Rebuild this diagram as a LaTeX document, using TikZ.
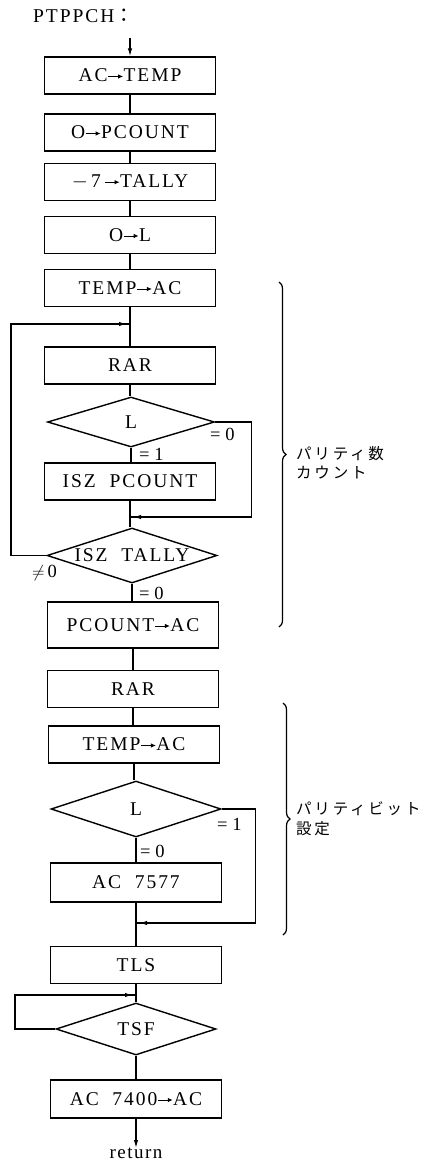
\documentclass[tikz,border=0pt]{standalone}
\usepackage{fontspec}
\setmainfont{Liberation Serif}
\newfontfamily\cjk{Noto Sans CJK JP}
\usetikzlibrary{shapes.geometric,arrows.meta,decorations.markings,decorations.pathreplacing}
\newcommand\boxfont{\fontsize{19.5}{22}\selectfont\addfontfeature{LetterSpace=10}}
\newcommand\lblfont{\fontsize{18.5}{21}\selectfont}
\newcommand\retfont{\fontsize{19}{21}\selectfont\addfontfeature{LetterSpace=8}}
\newcommand\jpfont{\cjk\fontsize{15.5}{19.5}\selectfont\addfontfeature{LetterSpace=18}}
\newcommand\rarr{\tikz[baseline=-0.6ex]\draw[line width=0.9pt,-{Latex[length=5pt,width=4.5pt]}](0pt,0pt)--(15pt,0pt);}
\begin{document}
\begin{tikzpicture}[x=1pt,y=-1pt,
  box/.style={draw,line width=1.4pt,minimum width=171pt,minimum height=37pt,inner sep=0pt,font=\boxfont},
  dia/.style={draw,diamond,aspect=3.3,line width=1.4pt,inner sep=0pt,font=\boxfont},
  conn/.style={line width=1.2pt},
  midarrow/.style={conn,postaction={decorate},decoration={markings,mark=at position -4pt with {\arrow{Latex[length=7pt,width=4.5pt]}}}},
  lbl/.style={font=\lblfont,inner sep=0pt},
  jp/.style={font=\jpfont,inner sep=0pt,anchor=west,align=left},
  brc/.style={line width=1.2pt,decorate,decoration={brace,amplitude=7pt}}]
\useasboundingbox (0,0) rectangle (426,1164);

\node[font=\boxfont,anchor=west,inner sep=0pt] (title) at (33,16) {PTPPCH{\cjk ：}};
\coordinate (start) at (130,38);

\node[box] (b1) at (130,75.5) {AC\rarr TEMP};
\node[box] (b2) at (130,132.5) {O\rarr PCOUNT};
\node[box] (b3) at (130,182) {$-$\,7\,\rarr TALLY};
\node[box] (b4) at (130,235) {O\rarr L};
\node[box] (b5) at (130,288) {TEMP\rarr AC};
\coordinate (j1) at (130,324);
\node[box] (b6) at (130,365.5) {RAR};
\node[dia,minimum width=167pt,minimum height=50pt] (d1) at (131,422) {L};
\node[box] (b7) at (130,481.5) {ISZ\ \ PCOUNT};
\coordinate (j2) at (130,517);
\node[dia,minimum width=170pt,minimum height=55pt,inner xsep=-30pt] (d2) at (132,555.5) {ISZ\ \ TALLY};
\node[box,minimum height=46pt] (b8) at (133,625) {PCOUNT\rarr AC};
\node[box] (b9) at (133,689) {RAR};
\node[box] (b10) at (134,744.5) {TEMP\rarr AC};
\node[dia,minimum width=170pt,minimum height=56pt] (d3) at (136,809) {L};
\node[box,minimum height=39pt] (b11) at (136,882.5) {AC\ \ 7577};
\coordinate (j3) at (136,923);
\node[box] (b12) at (136,965) {TLS};
\coordinate (j4) at (136,995);
\node[dia,minimum width=160pt,minimum height=52pt] (d4) at (136,1029) {TSF};
\node[box,minimum height=38pt] (b13) at (136,1099) {AC\ \ 7400\rarr AC};
\node[font=\retfont,inner sep=0pt,anchor=north] (ret) at (136,1148) {return};

% main flow
\draw[conn,-{Latex[length=8pt,width=4.5pt]}] (start) -- (b1.north);
\draw[conn] (b1.south) -- (b1.south |- b2.north);
\draw[conn] (b2.south) -- (b2.south |- b3.north);
\draw[conn] (b3.south) -- (b3.south |- b4.north);
\draw[conn] (b4.south) -- (b4.south |- b5.north);
\draw[conn] (b5.south) -- (b5.south |- b6.north);
\draw[conn] (b6.south) -- (b6.south |- d1.north);
\draw[conn] (d1.south) -- (d1.south |- b7.north);
\draw[conn] (b7.south) -- (b7.south |- d2.north);
\draw[conn] (d2.south) -- (d2.south |- b8.north);
\draw[conn] (b8.south) -- (b8.south |- b9.north);
\draw[conn] (b9.south) -- (b9.south |- b10.north);
\draw[conn] (b10.south) -- (b10.south |- d3.north);
\draw[conn] (d3.south) -- (d3.south |- b11.north);
\draw[conn] (b11.south) -- (b11.south |- b12.north);
\draw[conn] (b12.south) -- (b12.south |- d4.north);
\draw[conn] (d4.south) -- (d4.south |- b13.north);
\draw[conn,-{Latex[length=8pt,width=4.5pt]}] (b13.south) -- (ret.north);

% branches
\draw[midarrow] (d1.east) -- ++(36,0) |- (j2);
\draw[midarrow] (d2.west) -- (11,555.5) |- (j1);
\draw[midarrow] (d3.east) -- ++(34,0) |- (j3);
\draw[midarrow] (d4.west) -- (15,1029) |- (j4);

% labels
\node[lbl,anchor=west] (l1) at (210,434) {= 0};
\node[lbl,anchor=west] (l2) at (139,454) {= 1};
\node[lbl,anchor=west] (l3) at (32,573) {$\neq$\,0};
\node[lbl,anchor=west] (l4) at (139,593) {= 0};
\node[lbl,anchor=west] (l5) at (217,824) {= 1};
\node[lbl,anchor=west] (l6) at (140,851) {= 0};

% braces
\draw[brc] (279,282) -- (279,627);
\draw[brc] (283,703) -- (283,935);
\node[jp] (t1) at (296,463) {パリティ数\\カウント};
\node[jp] (t2) at (296,819) {パリティビット\\設定};
\end{tikzpicture}
\end{document}
